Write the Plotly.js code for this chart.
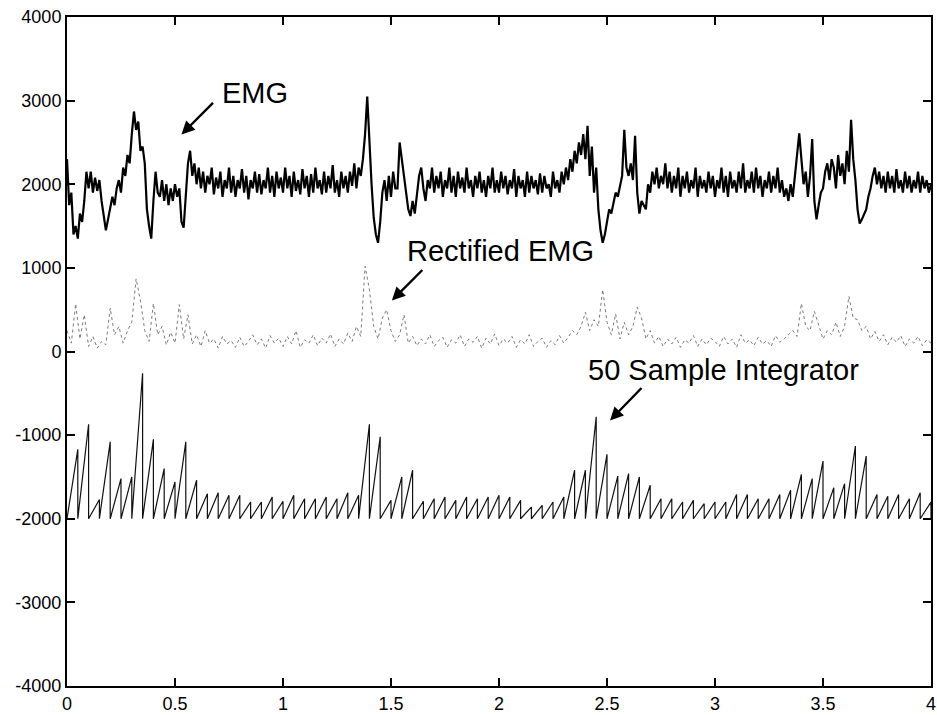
<!DOCTYPE html>
<html>
<head>
<meta charset="utf-8">
<script src="https://cdn.plot.ly/plotly-3.0.1.min.js"></script>
<style>html,body{margin:0;padding:0;background:#fff;}#chart{width:937px;height:715px;}</style>
</head>
<body>
<div id="chart"></div>
<script>
// ---- Data ----
// Raw EMG, sampled every 0.01 s from t = 0 to 4 s
const emgStep = 0.01;
const emgValues = [
2300,1750,1900,1400,1500,1350,1650,1550,1800,2150,
1950,2150,1900,2080,1920,2050,1800,1650,1450,1580,
1700,1850,1750,1950,2050,1900,2200,2100,2350,2250,
2600,2870,2650,2750,2400,2450,2250,1700,1500,1350,
1800,2150,1900,1850,2050,1800,2000,1750,1950,1800,
2000,1850,1950,1550,1480,1900,2250,2400,2100,2250,
2000,2200,1950,2150,1900,2100,2000,2200,1880,2080,
1950,2150,1850,2050,1950,2200,1900,2100,1850,2050,
1950,2180,1900,2100,1820,2050,1950,2150,1900,2120,
1880,2050,1950,2200,1900,2100,1850,2150,1950,2080,
1900,2200,1950,2100,1850,2150,1920,2050,1880,2180,
1950,2100,1850,2120,1900,2200,1950,2050,1880,2150,
1900,2100,1950,2230,1900,2050,1850,2150,1950,2100,
1900,2150,1980,2250,1950,2200,2100,2300,2600,3050,
2500,2000,1600,1400,1300,1550,1900,2050,1800,2100,
1850,2150,1950,1950,2500,2300,2150,1900,1700,1620,
1800,1650,1900,2100,2200,1950,1800,2050,1950,2200,
1900,2100,1950,2150,1850,2050,1950,2200,1900,2100,
1850,2150,1950,2080,1900,2200,1950,2050,1850,2100,
1950,2150,1900,2050,1850,2100,1950,2200,1900,2050,
1900,2150,1950,2100,1880,2050,1950,2180,1850,2100,
1950,2050,1850,2150,1900,2100,1950,2050,1880,2130,
1900,2100,1950,2000,1850,2150,1950,2050,1900,2150,
2000,2200,2050,2300,2150,2400,2250,2500,2350,2600,
2300,2700,2100,2450,1900,2200,1700,1450,1300,1400,
1550,1700,1650,1800,1900,1850,2000,2100,2650,2200,
2100,2250,2050,2580,1900,1650,1800,1750,1700,2000,
1900,2150,2000,2200,1950,2100,2000,2250,1950,2150,
1900,2100,1950,2200,1850,2100,1950,2150,1900,2050,
1950,2200,1850,2100,1950,2050,1900,2150,1950,2100,
1850,2050,1950,2200,1900,2100,1850,2150,1950,2050,
1900,2150,1950,2250,1900,2050,1950,2150,1900,2200,
1950,2100,1850,2050,1950,2150,1900,2100,1950,2200,
1900,2050,1850,1950,1800,2000,1850,2100,2400,2610,
2300,2000,2150,1850,2100,2540,1800,1580,1750,1900,
1950,2150,2250,2050,2300,2200,1950,2350,2100,2250,
2000,2400,2150,2770,2300,2050,1700,1530,1580,1650,
1700,1850,1950,2100,2200,2000,2150,1950,2100,1900,
2150,1950,2100,1900,2180,1950,2050,1900,2150,1950,
2100,1900,2050,1950,2150,1900,2100,1950,2050,1900,
2000
];

// Rectified EMG, sampled every 0.02 s
const rectStep = 0.02;
const rectValues = [
250,100,570,150,440,60,180,40,120,80,
520,200,300,100,250,350,870,610,250,120,
575,200,300,80,230,100,560,150,440,90,
200,60,250,100,150,40,180,90,130,50,
170,60,120,200,80,150,40,190,100,160,
60,180,90,250,50,140,100,200,70,160,
100,210,60,150,90,220,120,300,180,1020,
740,300,150,400,500,250,120,200,440,100,
180,70,150,90,200,60,130,170,50,140,
100,200,60,150,110,180,40,160,90,210,
70,150,100,180,50,140,90,200,60,120,
160,50,130,80,190,100,170,250,200,300,
470,250,380,300,740,350,200,450,150,350,
200,300,530,400,150,250,100,180,60,150,
90,170,50,140,100,190,60,150,80,160,
120,60,180,90,150,50,200,100,140,70,
170,90,130,60,190,110,150,200,250,180,
575,300,250,480,320,150,250,200,350,180,
300,660,400,380,250,300,150,240,120,200,
80,170,110,190,60,150,100,180,70,140,
100
];

// 50-sample integrator: window length (s), reset level and the peak reached in each window
const intPeriod = 0.05;
const intReset = -2000;
const intPeaks = [
-1170,-870,-1770,-1080,-1520,-1500,-260,-1050,-1400,-1560,
-1080,-1540,-1700,-1690,-1720,-1720,-1800,-1800,-1740,-1790,
-1720,-1760,-1760,-1740,-1760,-1690,-1720,-870,-1020,-1780,
-1500,-1420,-1790,-1760,-1740,-1780,-1740,-1760,-1740,-1720,
-1740,-1780,-1860,-1840,-1800,-1740,-1420,-1420,-780,-1230,
-1490,-1460,-1500,-1600,-1760,-1760,-1800,-1780,-1820,-1800,
-1800,-1710,-1710,-1760,-1760,-1710,-1660,-1470,-1520,-1310,
-1630,-1580,-1130,-1250,-1710,-1730,-1710,-1760,-1690,-1800
];

// Axis ticks
const xTickVals = [0, 0.5, 1, 1.5, 2, 2.5, 3, 3.5, 4];
const xTickText = ["0", "0.5", "1", "1.5", "2", "2.5", "3", "3.5", "4"];
const yTickVals = [4000, 3000, 2000, 1000, 0, -1000, -2000, -3000, -4000];
const yTickText = ["4000", "3000", "2000", "1000", "0", "-1000", "-2000", "-3000", "-4000"];

// Labels
const labelEMG = "EMG";
const labelRect = "Rectified EMG";
const labelInt = "50 Sample Integrator";

// ---- Build traces ----
const emgX = emgValues.map((_, i) => +(i * emgStep).toFixed(4));
const rectX = rectValues.map((_, i) => +(i * rectStep).toFixed(4));
const intX = [], intY = [];
intPeaks.forEach((p, i) => {
  intX.push(+(i * intPeriod).toFixed(4)); intY.push(intReset);
  intX.push(+((i + 1) * intPeriod).toFixed(4)); intY.push(p);
});
intX.push(4); intY.push(intReset);

const traces = [
  {x: rectX, y: rectValues, type: 'scatter', mode: 'lines',
   line: {color: '#7a7a7a', width: 1, dash: 'dot'}, hoverinfo: 'skip'},
  {x: intX, y: intY, type: 'scatter', mode: 'lines',
   line: {color: '#111', width: 1.2}, hoverinfo: 'skip'},
  {x: emgX, y: emgValues, type: 'scatter', mode: 'lines',
   line: {color: '#000', width: 2.2}, hoverinfo: 'skip'}
];

const annFont = {family: 'Liberation Sans, Arial, sans-serif', size: 29, color: '#000'};
function arrow(x, y, ax, ay) {
  return {x: x, y: y, xref: 'x', yref: 'y', text: ' ', font: {size: 1},
    showarrow: true, arrowhead: 2, arrowsize: 1.1, arrowwidth: 2.4, arrowcolor: '#000',
    ax: ax, ay: ay, standoff: 0, startstandoff: 0};
}
function label(x, y, t) {
  return {x: x, y: y, xref: 'x', yref: 'y', text: t, showarrow: false, font: annFont,
    xanchor: 'center', yanchor: 'middle'};
}

const layout = {
  width: 937, height: 715,
  margin: {l: 67, r: 6, t: 17, b: 29},
  paper_bgcolor: '#fff', plot_bgcolor: '#fff',
  showlegend: false,
  font: {family: 'Liberation Sans, Arial, sans-serif', size: 18, color: '#000'},
  xaxis: {range: [0, 4], tickvals: xTickVals, ticktext: xTickText,
    showgrid: false, zeroline: false, showline: true, linecolor: '#000', linewidth: 2,
    mirror: 'ticks', ticks: 'inside', ticklen: 8, tickwidth: 2, tickcolor: '#000',
    tickfont: {size: 18}, ticklabeloverflow: 'allow'},
  yaxis: {range: [-4000, 4000], tickvals: yTickVals, ticktext: yTickText,
    showgrid: false, zeroline: false, showline: true, linecolor: '#000', linewidth: 2,
    mirror: 'ticks', ticks: 'inside', ticklen: 8, tickwidth: 2, tickcolor: '#000',
    tickfont: {size: 18}, ticklabeloverflow: 'allow'},
  annotations: [
    label(0.872, 3086, labelEMG),
    arrow(0.53, 2596, 33, -33),
    label(2.007, 1196, labelRect),
    arrow(1.504, 610, 32, -32),
    label(3.04, -227, labelInt),
    arrow(2.514, -825, 33, -34)
  ]
};

Plotly.newPlot('chart', traces, layout, {displayModeBar: false, staticPlot: true});
</script>
</body>
</html>
